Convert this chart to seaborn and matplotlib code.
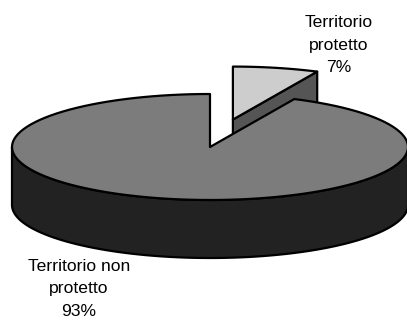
import numpy as np
import matplotlib
matplotlib.use("Agg")
import matplotlib.pyplot as plt
from matplotlib.patches import Polygon
import seaborn as sns

# Share of the territory under protection
labels = ["Territorio\nprotetto", "Territorio non\nprotetto"]
shares = [7, 93]
explode = [0.53, 0.0]

sns.set_style("white")
plt.rcParams["font.family"] = ["Liberation Sans", "DejaVu Sans"]

W, H = 407, 322
fig = plt.figure(figsize=(W / 100, H / 100), dpi=100)
ax = fig.add_axes([0, 0, 1, 1])
ax.set_xlim(0, W)
ax.set_ylim(H, 0)
ax.axis("off")

# Tilted-disc geometry (pixel space)
cx, cy = 210, 147
rx, ry = 198, 53
depth = 58
start = 90.0

top_colors = ["#cdcdcd", "#7c7c7c"]
side_colors = ["#555555", "#222222"]
edge = dict(edgecolor="black", linewidth=1.6, joinstyle="round")


def arc(a_from, a_to, ox, oy, dz=0.0, n=120):
    t = np.deg2rad(np.linspace(a_from, a_to, n))
    return np.column_stack([ox + rx * np.cos(t), oy - ry * np.sin(t) + dz])


def front_ranges(lo, hi):
    out = []
    for k in range(-2, 3):
        f0, f1 = 180 + 360 * k, 360 + 360 * k
        a, b = max(lo, f0), min(hi, f1)
        if b > a:
            out.append((a, b))
    return out


total = float(sum(shares))
slices = []
cum = 0.0
for i, s in enumerate(shares):
    a0 = start - cum / total * 360.0
    cum += s
    a1 = start - cum / total * 360.0
    mid = np.deg2rad((a0 + a1) / 2)
    ox = cx + rx * explode[i] * np.cos(mid)
    oy = cy - ry * explode[i] * np.sin(mid)
    slices.append((i, a0, a1, ox, oy))

# paint from the back to the front
for i, a0, a1, ox, oy in sorted(slices, key=lambda s: s[4]):
    # radial cut faces turned toward the viewer
    for a, visible in ((a0, np.cos(np.deg2rad(a0)) < -1e-9),
                       (a1, np.cos(np.deg2rad(a1)) > 1e-9)):
        if visible:
            p = arc(a, a, ox, oy, n=1)[0]
            poly = [(ox, oy), tuple(p), (p[0], p[1] + depth), (ox, oy + depth)]
            ax.add_patch(Polygon(poly, closed=True, facecolor=side_colors[i], **edge))
    # outer wall on the front half
    for lo, hi in front_ranges(a1, a0):
        topc = arc(lo, hi, ox, oy)
        botc = arc(hi, lo, ox, oy, dz=depth)
        ax.add_patch(Polygon(np.vstack([topc, botc]), closed=True,
                             facecolor=side_colors[i], **edge))
    # top face
    pts = np.vstack([[ox, oy], arc(a1, a0, ox, oy)])
    ax.add_patch(Polygon(pts, closed=True, facecolor=top_colors[i], **edge))

label_pos = [(339, 45), (79, 289)]
for (x, y), lab, s in zip(label_pos, labels, shares):
    ax.text(x, y, f"{lab}\n{s}%", ha="center", va="center",
            fontsize=12.6, linespacing=1.62, color="black")

fig.savefig("out.png", dpi=100, facecolor="white")
